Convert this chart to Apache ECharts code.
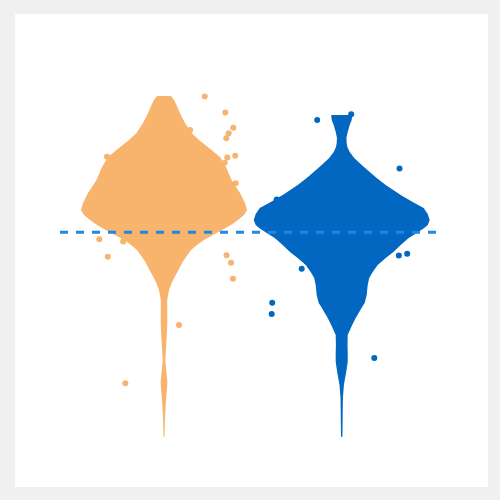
<!DOCTYPE html>
<html>
<head>
<meta charset="utf-8">
<script src="https://cdn.jsdelivr.net/npm/echarts@6/dist/echarts.min.js"></script>
<style>
html,body{margin:0;padding:0;background:#f0f0f0;}
#c{width:500px;height:500px;}
</style>
</head>
<body>
<div id="c"></div>
<script>
// Violin profiles: [value, half-width] (density-scaled)
var groups = ['A', 'B'];
var groupCenters = [14.9, 32.67];
var colors = ['#f8b36c', '#0267c1'];

var profileA = [
  [39.10,0.70],[38.70,1.00],[38.20,1.25],[37.70,1.45],[37.00,1.80],[36.40,2.10],
  [35.40,2.75],[34.70,3.50],[33.90,4.50],[33.00,5.60],[32.00,6.20],[30.70,6.75],
  [29.40,7.60],[28.40,8.10],[27.70,8.30],[27.20,8.00],[26.70,7.40],[26.20,6.70],
  [25.70,5.80],[25.20,4.90],[24.70,4.00],[24.20,3.30],[23.70,2.70],[23.00,2.20],
  [22.40,1.80],[21.70,1.45],[20.70,0.90],[19.70,0.50],[18.70,0.32],[17.70,0.32],
  [16.40,0.33],[14.70,0.25],[12.70,0.13],[11.70,0.22],[10.50,0.34],[9.40,0.26],
  [8.40,0.18],[6.70,0.09],[5.03,0.05]
];
var profileB = [
  [37.20,1.05],[36.70,1.00],[36.20,0.80],[35.50,0.60],[34.90,0.47],[34.40,0.50],
  [34.00,0.57],[33.50,0.80],[32.90,1.25],[32.20,2.00],[31.50,2.80],[30.90,3.50],
  [30.20,4.40],[29.20,5.90],[28.50,7.10],[27.90,8.20],[27.30,8.60],[26.70,8.80],
  [26.20,8.60],[25.90,8.25],[25.40,7.50],[24.90,6.70],[24.20,5.90],[23.50,5.17],
  [22.90,4.40],[22.20,3.60],[21.50,3.10],[20.90,2.75],[20.20,2.60],[19.20,2.50],
  [18.40,2.30],[18.10,2.10],[17.50,1.75],[16.90,1.40],[16.10,1.00],[15.20,0.60],
  [14.20,0.58],[13.50,0.60],[12.50,0.60],[11.50,0.45],[10.20,0.22],[8.90,0.12],
  [6.70,0.09],[5.03,0.07]
];

// Jittered observations [x, value]
var pointsA = [
  [18.97,39.05],[21.03,37.45],[21.83,35.93],[21.37,35.38],[21.13,34.88],[17.52,35.70],
  [9.20,33.03],[21.23,32.95],[22.02,33.13],[20.97,32.43],[22.07,30.38],[8.43,24.77],
  [10.82,24.55],[9.27,23.02],[21.15,23.17],[21.60,22.43],[21.80,20.83],[16.40,16.20],
  [11.03,10.37]
];
var pointsB = [
  [30.22,36.70],[33.62,37.28],[38.45,31.85],[26.17,28.75],[28.67,21.83],[38.38,23.15],
  [39.22,23.32],[25.72,18.43],[25.67,17.30],[35.93,12.90]
];

// Reference line
var refLineX = [4.5, 42.37];
var refLineY = 25.47;

function violinSeries(profile, center, color) {
  return {
    type: 'custom',
    data: [[center]],
    z: 1,
    renderItem: function (params, api) {
      var pts = [];
      for (var i = 0; i < profile.length; i++) {
        pts.push(api.coord([center + profile[i][1], profile[i][0]]));
      }
      for (var j = profile.length - 1; j >= 0; j--) {
        pts.push(api.coord([center - profile[j][1], profile[j][0]]));
      }
      return { type: 'polygon', shape: { points: pts }, style: { fill: color } };
    }
  };
}

var chart = echarts.init(document.getElementById('c'));
chart.setOption({
  animation: false,
  backgroundColor: '#f0f0f0',
  grid: { left: 15, top: 14, width: 473, height: 473, show: true, backgroundColor: '#ffffff', borderWidth: 0 },
  xAxis: { type: 'value', min: 0, max: 47.3, show: false },
  yAxis: { type: 'value', min: 0, max: 47.3, show: false },
  series: [
    violinSeries(profileA, groupCenters[0], colors[0]),
    violinSeries(profileB, groupCenters[1], colors[1]),
    { type: 'scatter', data: pointsA, symbolSize: 6, itemStyle: { color: colors[0], opacity: 1 }, z: 2 },
    { type: 'scatter', data: pointsB, symbolSize: 6, itemStyle: { color: colors[1], opacity: 1 }, z: 2 },
    {
      type: 'line', z: 3, symbol: 'none',
      data: [[refLineX[0], refLineY], [refLineX[1], refLineY]],
      lineStyle: { color: '#1e88e5', width: 3, type: [8, 8] }
    }
  ]
});
</script>
</body>
</html>
